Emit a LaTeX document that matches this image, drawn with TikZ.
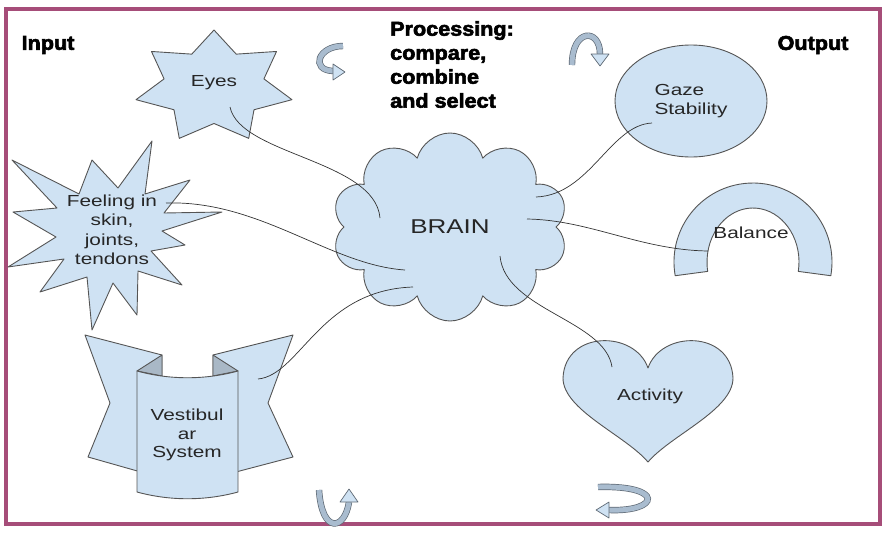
\documentclass[tikz,border=0pt]{standalone}
\usepackage{fontspec}
\setmainfont{Liberation Sans}[FakeStretch=1.3]
\newfontfamily\headfont{Liberation Sans}[FakeStretch=1.08,BoldFeatures={FakeBold=3}]
\usetikzlibrary{shapes.geometric,shapes.symbols}
\definecolor{FrameRose}{HTML}{A64D79}
\definecolor{PaleBlue}{HTML}{CFE2F3}
\definecolor{FoldBlue}{HTML}{A9B8C6}
\definecolor{Outline}{HTML}{555555}
\definecolor{Ink}{HTML}{262626}
\definecolor{TurnBlue}{HTML}{A9BCCF}
\definecolor{TurnEdge}{HTML}{5F6A75}

\tikzset{
  shapebox/.style={draw=Outline,fill=PaleBlue,line width=0.9pt,line join=round},
  link/.style={draw=black!80,line width=0.7pt},
  lbl/.style={text=Ink,font=\fontsize{16}{19.5}\selectfont,align=center,inner sep=0pt},
  headlbl/.style={text=black,font=\headfont\bfseries\fontsize{20}{24}\selectfont,inner sep=0pt},
  turn/.style={draw=TurnEdge,line width=0.7pt,double=TurnBlue,double distance=5pt},
  turnhead/.style={draw=TurnEdge,line width=0.7pt,fill=PaleBlue,line join=round}
}

\begin{document}
\begin{tikzpicture}[x=1pt,y=-1pt]
  \useasboundingbox (0,0) rectangle (886,533);
  \draw[FrameRose,line width=3.5pt] (6,9) rectangle (880,524);

  \node[headlbl] (input) at (48,45) {Input};
  \node[headlbl] (output) at (813,45) {Output};
  \node[headlbl,align=left,anchor=north west] (processing) at (390,21) {Processing:\\compare,\\combine\\and select};

  % inputs
  \draw[shapebox] (214,30) \foreach \k in {1,...,13}{ -- ({214+80*(0.82+0.18*cos(180*\k))*cos(-90+\k*360/14)},{87+57*(0.82+0.18*cos(180*\k))*sin(-90+\k*360/14)}) } -- cycle;
  \node[lbl] (eyes) at (214,83) {Eyes};

  \draw[shapebox] (12,160) -- (79,194) -- (92,160) -- (118,188) -- (152,141) -- (145,194) -- (190,180) -- (164,213) -- (222,212) -- (162,231) -- (185,245) -- (151,251) -- (182,285) -- (138,271) -- (137,315) -- (113,283) -- (92,330) -- (87,277) -- (40,292) -- (64,259) -- (8,267) -- (56,237) -- (13,212) -- (57,208) -- cycle;
  \node[lbl] (feeling) at (112,230) {Feeling in\\skin,\\joints,\\tendons};

  \draw[shapebox] (85,335) -- (162,355) -- (162,478) -- (88,457) -- (110,403) -- cycle;
  \draw[shapebox] (293,335) -- (213,355) -- (213,478) -- (293,457) -- (268,403) -- cycle;
  \draw[shapebox,fill=FoldBlue] (137,371) -- (162,355) -- (162,376) -- cycle;
  \draw[shapebox,fill=FoldBlue] (238,371) -- (213,355) -- (213,376) -- cycle;
  \draw[shapebox] (137,371) .. controls (170,380) and (205,380) .. (238,371) -- (238,492) .. controls (205,501) and (170,501) .. (137,492) -- cycle;
  \node[lbl,font=\fontsize{16}{18.5}\selectfont] (vestibular) at (187,435) {Vestibul\\ar\\System};

  % processing
  \node[cloud,cloud puffs=10,aspect=1.25,shapebox,minimum width=236pt,minimum height=188pt,lbl,font=\fontsize{20}{24}\selectfont] (brain) at (450,227) {BRAIN};

  % outputs
  \node[ellipse,shapebox,minimum width=152pt,minimum height=112pt,lbl,align=left] (gaze) at (691,101) {Gaze\\Stability};

  \draw[shapebox] (753,262) ++(170:79) arc[start angle=170,end angle=370,radius=79] -- (798.3,271.4) arc[start angle=370,end angle=170,x radius=46,y radius=54] -- cycle;
  \node[lbl] (balance) at (751,233) {Balance};

  \draw[shapebox] (648,368) .. controls (635,330) and (565,330) .. (563,378) .. controls (563,410) and (625,435) .. (648,462) .. controls (671,435) and (733,410) .. (733,378) .. controls (731,330) and (661,330) .. (648,368) -- cycle;
  \node[lbl] (activity) at (650,396) {Activity};

  % connectors
  \coordinate (eyes-root) at (230,107);
  \coordinate (brain-eyes) at (380,218);
  \coordinate (feeling-root) at (166,203);
  \coordinate (brain-feeling) at (405,270);
  \coordinate (vestibular-root) at (258,379);
  \coordinate (brain-vestibular) at (413,287);
  \coordinate (gaze-root) at (652,123);
  \coordinate (brain-gaze) at (536,197);
  \coordinate (brain-balance) at (527,219);
  \coordinate (balance-root) at (708,251);
  \coordinate (brain-activity) at (500,256);
  \coordinate (activity-root) at (612,367);
  \draw[link] (eyes-root) .. controls +(10,48) and +(-5,-58) .. (brain-eyes);
  \draw[link] (feeling-root) .. controls +(94,-3) and +(-75,-5) .. (brain-feeling);
  \draw[link] (vestibular-root) .. controls +(42,-4) and +(-93,3) .. (brain-vestibular);
  \draw[link] (gaze-root) .. controls +(-42,2) and +(54,-2) .. (brain-gaze);
  \draw[link] (brain-balance) .. controls +(63,1) and +(-68,-1) .. (balance-root);
  \draw[link] (brain-activity) .. controls +(5,54) and +(-7,-47) .. (activity-root);

  % turning arrows
  \draw[turn] (343,46) .. controls (318,46) and (310,70) .. (333,71);
  \draw[turnhead] (333,64) -- (345,72) -- (333,80) -- cycle;
  \draw[turn] (572,65) .. controls (572,28) and (600,28) .. (600,54);
  \draw[turnhead] (591,54) -- (600,66) -- (609,54) -- cycle;
  \draw[turn] (319,490) .. controls (322,535) and (345,530) .. (349,502);
  \draw[turnhead] (340,502) -- (349,489) -- (358,502) -- cycle;
  \draw[turn] (598,487) .. controls (665,485) and (660,512) .. (609,510);
  \draw[turnhead] (609,502) -- (596,510) -- (609,518) -- cycle;
\end{tikzpicture}
\end{document}
